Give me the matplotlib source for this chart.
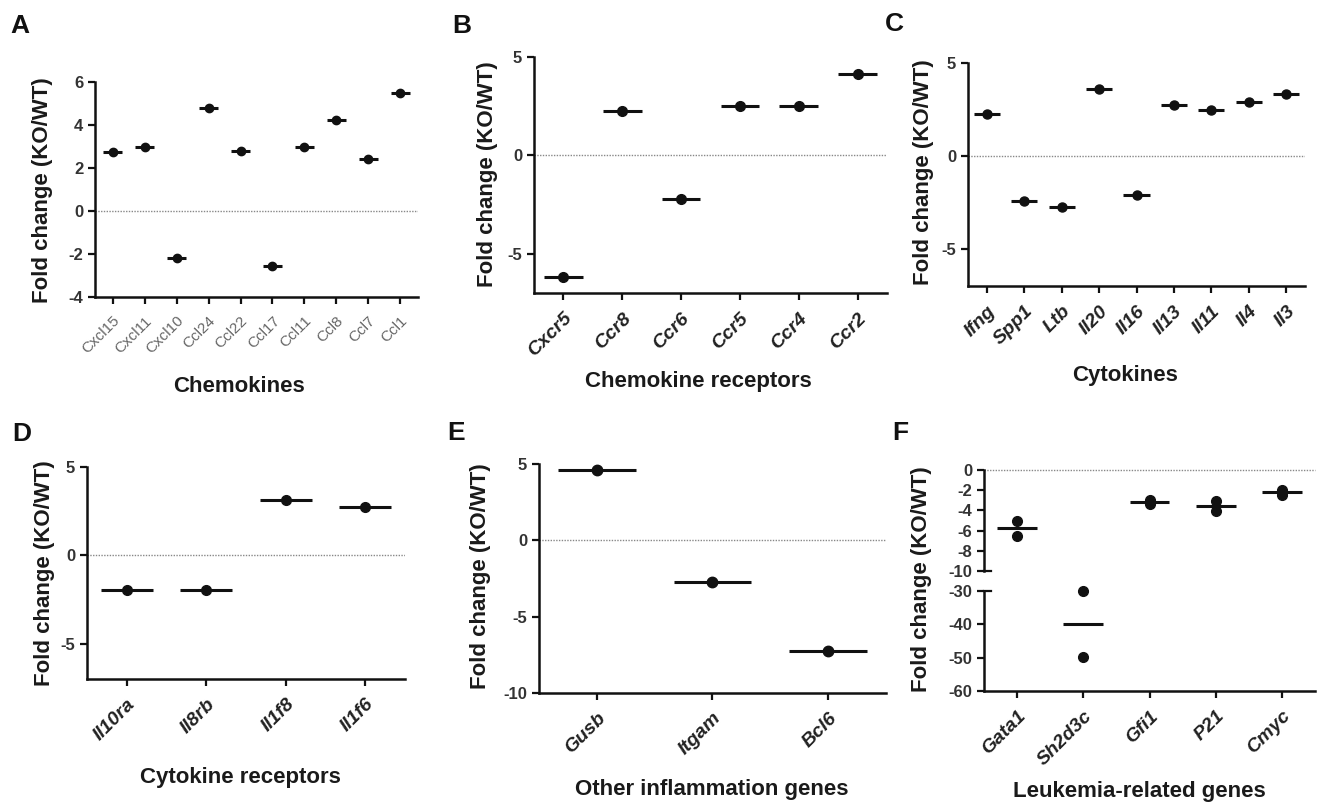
import numpy as np
import matplotlib
matplotlib.use("Agg")
import matplotlib.pyplot as plt

plt.rcParams["font.family"] = ["Liberation Sans", "DejaVu Sans"]
plt.rcParams["axes.unicode_minus"] = False

# =====================================================
# DATA
# =====================================================
chemokines = ["Cxcl15", "Cxcl11", "Cxcl10", "Ccl24", "Ccl22",
              "Ccl17", "Ccl11", "Ccl8", "Ccl7", "Ccl1"]
chemokine_fc = [2.76, 2.98, -2.2, 4.8, 2.78, -2.54, 2.98, 4.22, 2.4, 5.48]

receptors = ["Cxcr5", "Ccr8", "Ccr6", "Ccr5", "Ccr4", "Ccr2"]
receptor_fc = [-6.2, 2.25, -2.2, 2.52, 2.52, 4.15]

cytokines = ["Ifng", "Spp1", "Ltb", "Il20", "Il16", "Il13", "Il11", "Il4", "Il3"]
cytokine_fc = [2.28, -2.42, -2.74, 3.62, -2.1, 2.73, 2.46, 2.9, 3.35]

cyt_receptors = ["Il10ra", "Il8rb", "Il1f8", "Il1f6"]
cyt_receptor_fc = [-1.98, -1.98, 3.15, 2.75]

inflam = ["Gusb", "Itgam", "Bcl6"]
inflam_fc = [4.62, -2.72, -7.25]

leukemia = ["Gata1", "Sh2d3c", "Gfi1", "P21", "Cmyc"]
leukemia_pts = [[-5.0, -6.5], [-29.9, -49.7], [-3.0, -3.4], [-3.1, -4.05], [-2.0, -2.45]]

W, H = 1317, 808
LINE = "#111111"
TICK = "#333333"


def rect(l, r, t, b):
    return [l / W, 1 - b / H, (r - l) / W, (b - t) / H]


def style(ax):
    for s in ["top", "right"]:
        ax.spines[s].set_visible(False)
    for s in ["left", "bottom"]:
        ax.spines[s].set_linewidth(1.8)
        ax.spines[s].set_color(LINE)
    ax.tick_params(axis="both", length=5, width=1.6, color=LINE,
                   labelsize=12, labelcolor=TICK)
    ax.tick_params(axis="x", pad=7)
    for lab in ax.get_yticklabels():
        lab.set_fontweight("bold")


def zero_line(ax):
    ax.axhline(0, color="#888888", lw=1.0, ls=(0, (1, 1)), zorder=1)


def medians(ax, vals, width=0.66, ms=7):
    x = np.arange(len(vals))
    ax.hlines(vals, x - width / 2, x + width / 2, color=LINE, lw=2.2, zorder=3)
    ax.plot(x, vals, "o", color=LINE, ms=ms, zorder=4)


def xlabels(ax, names, italic=True):
    ax.set_xticks(np.arange(len(names)))
    if italic:
        ax.set_xticklabels(names, rotation=45, ha="right", rotation_mode="anchor",
                           fontsize=14, fontstyle="italic", fontweight="bold",
                           color="#222222")
    else:
        ax.set_xticklabels(names, rotation=45, ha="right", rotation_mode="anchor",
                           fontsize=11, color="#666666")


fig = plt.figure(figsize=(W / 100, H / 100), dpi=100)

# =====================================================
# A
# =====================================================
axA = fig.add_axes(rect(95, 418, 82, 297))
zero_line(axA)
medians(axA, chemokine_fc, width=0.6, ms=6)
axA.set_xlim(-0.55, 9.55)
axA.set_ylim(-4, 6)
axA.set_yticks([-4, -2, 0, 2, 4, 6])
style(axA)
xlabels(axA, chemokines, italic=False)

# =====================================================
# B
# =====================================================
axB = fig.add_axes(rect(534, 887, 57, 293))
zero_line(axB)
medians(axB, receptor_fc)
axB.set_xlim(-0.5, 5.5)
axB.set_ylim(-7, 5)
axB.set_yticks([-5, 0, 5])
style(axB)
xlabels(axB, receptors)

# =====================================================
# C
# =====================================================
axC = fig.add_axes(rect(968, 1305, 63, 286))
zero_line(axC)
medians(axC, cytokine_fc, width=0.7, ms=6.5)
axC.set_xlim(-0.5, 8.5)
axC.set_ylim(-7, 5)
axC.set_yticks([-5, 0, 5])
style(axC)
xlabels(axC, cytokines)

# =====================================================
# D
# =====================================================
axD = fig.add_axes(rect(87, 405, 467, 679))
zero_line(axD)
medians(axD, cyt_receptor_fc)
axD.set_xlim(-0.5, 3.5)
axD.set_ylim(-7, 5)
axD.set_yticks([-5, 0, 5])
style(axD)
xlabels(axD, cyt_receptors)

# =====================================================
# E
# =====================================================
axE = fig.add_axes(rect(539, 886, 464, 693))
zero_line(axE)
medians(axE, inflam_fc, width=0.67, ms=7.5)
axE.set_xlim(-0.5, 2.5)
axE.set_ylim(-10, 5)
axE.set_yticks([-10, -5, 0, 5])
style(axE)
xlabels(axE, inflam)

# =====================================================
# F (broken axis)
# =====================================================
axF1 = fig.add_axes(rect(984, 1315, 470, 571))
axF2 = fig.add_axes(rect(984, 1315, 591, 691))
for ax in (axF1, axF2):
    ax.set_xlim(-0.5, 4.5)
axF1.set_ylim(-10, 0)
axF2.set_ylim(-60, -30)
axF1.set_yticks([0, -2, -4, -6, -8, -10])
axF2.set_yticks([-30, -40, -50, -60])
axF1.axhline(0, color="#888888", lw=1.0, ls=(0, (1, 1)), clip_on=False, zorder=1)

for i, pts in enumerate(leukemia_pts):
    med = np.mean(pts)
    ax = axF1 if med > -20 else axF2
    ax.hlines(med, i - 0.3, i + 0.3, color=LINE, lw=2.2, zorder=3, clip_on=False)
    ax.plot([i] * len(pts), pts, "o", color=LINE, ms=7, zorder=4, clip_on=False)

style(axF1)
style(axF2)
axF1.spines["bottom"].set_visible(False)
axF1.tick_params(axis="x", bottom=False, labelbottom=False)
xlabels(axF2, leukemia)
# break marks
for ax, yv in ((axF1, -10), (axF2, -30)):
    ax.plot([0, 0.02], [yv, yv], color=LINE, lw=1.6,
            transform=ax.get_yaxis_transform(), clip_on=False)

# =====================================================
# TEXT
# =====================================================
def ftext(x, y, s, **kw):
    fig.text(x / W, 1 - y / H, s, **kw)


ylab = "Fold change (KO/WT)"
for x, y in [(43, 190), (488, 174), (923, 172), (45, 573), (480, 576), (921, 579)]:
    ftext(x, y, ylab, rotation=90, ha="center", va="center",
          fontsize=16, fontweight="bold", color="#1a1a1a")

for x, y, s in [(239, 387, "Chemokines"), (698, 382, "Chemokine receptors"),
                (1125, 375, "Cytokines"), (240, 777, "Cytokine receptors"),
                (712, 790, "Other inflammation genes"),
                (1139, 791, "Leukemia-related genes")]:
    ftext(x, y, s, ha="center", va="center", fontsize=16,
          fontweight="bold", color="#1a1a1a")

for x, y, s in [(10, 14, "A"), (452, 14, "B"), (885, 12, "C"),
                (12, 422, "D"), (447, 421, "E"), (892, 421, "F")]:
    ftext(x, y, s, ha="left", va="top", fontsize=19,
          fontweight="bold", color="#111111")

fig.savefig("out.png", dpi=100)
